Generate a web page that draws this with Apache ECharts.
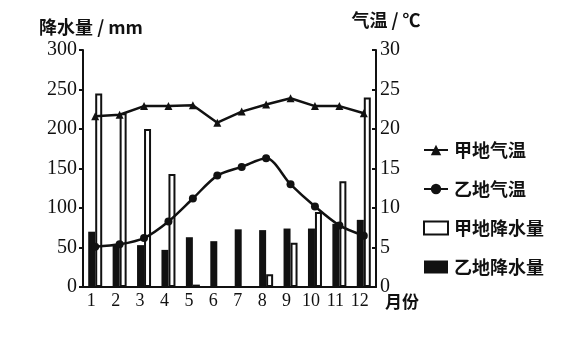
<!DOCTYPE html>
<html>
<head>
<meta charset="utf-8">
<script src="https://cdn.jsdelivr.net/npm/echarts@6/dist/echarts.min.js"></script>
<style>
html, body { margin: 0; padding: 0; background: #fff; }
#chart { width: 563px; height: 337px; }
</style>
</head>
<body>
<div id="chart"></div>
<script>
var months = ['1','2','3','4','5','6','7','8','9','10','11','12'];
var rainA = [245, 220, 200, 143, 3, 0, 0, 16, 56, 95, 134, 240];   // 甲地降水量
var rainB = [70, 53, 53, 47, 63, 58, 73, 72, 74, 74, 80, 85];      // 乙地降水量
var tempA = [21.6, 21.8, 22.9, 22.9, 23.0, 20.8, 22.2, 23.1, 23.9, 22.9, 22.9, 22.0]; // 甲地气温
var tempB = [5.1, 5.4, 6.2, 8.3, 11.2, 14.1, 15.2, 16.3, 13.0, 10.2, 7.8, 6.5];      // 乙地气温
var rainTicks = [0, 300, 50];
var tempTicks = [0, 30, 5];

var serif = 'Liberation Serif';
var cjk = 'Noto Sans CJK SC';

var chart = echarts.init(document.getElementById('chart'));

var option = {
	animation: false,
	backgroundColor: '#fff',
	grid: { left: 83, right: 187, top: 50, bottom: 50 },
	legend: {
		orient: 'vertical',
		left: 418,
		top: 136,
		itemGap: 21,
		itemWidth: 24,
		itemHeight: 13,
		selectedMode: false,
		data: [
			{ name: '甲地气温' },
			{ name: '乙地气温' },
			{ name: '甲地降水量', icon: 'rect' },
			{ name: '乙地降水量', icon: 'rect' }
		],
		textStyle: { fontFamily: cjk, fontWeight: 'bold', fontSize: 18, color: '#111', padding: [0, 0, 0, 1] }
	},
	xAxis: {
		type: 'category',
		data: months,
		name: '月份',
		nameLocation: 'end',
		nameGap: 9,
		nameMoveOverlap: false,
		nameTextStyle: { fontFamily: cjk, fontWeight: 'bold', fontSize: 17, color: '#111', verticalAlign: 'top', padding: [6, 0, 0, 0] },
		axisLine: { lineStyle: { color: '#111', width: 2 } },
		axisTick: { show: false },
		axisLabel: { fontFamily: serif, fontSize: 18, color: '#111', margin: 5, padding: [0, 8, 0, 0] }
	},
	yAxis: [
		{
			type: 'value',
			min: rainTicks[0],
			max: rainTicks[1],
			interval: rainTicks[2],
			name: '降水量 / mm',
			nameLocation: 'end',
			nameGap: 14,
			nameTextStyle: { fontFamily: cjk, fontWeight: 'bold', fontSize: 18, color: '#111', padding: [0, 0, 0, 16] },
			splitLine: { show: false },
			axisLine: { show: true, lineStyle: { color: '#111', width: 2 } },
			axisTick: { show: true, length: 4, lineStyle: { color: '#111', width: 2 } },
			axisLabel: { fontFamily: serif, fontSize: 20, color: '#111', margin: 6 }
		},
		{
			type: 'value',
			min: tempTicks[0],
			max: tempTicks[1],
			interval: tempTicks[2],
			position: 'right',
			name: '气温 / ℃',
			nameLocation: 'end',
			nameGap: 21,
			nameTextStyle: { fontFamily: cjk, fontWeight: 'bold', fontSize: 18, color: '#111', padding: [0, 0, 0, 20] },
			splitLine: { show: false },
			axisLine: { show: true, lineStyle: { color: '#111', width: 2 } },
			axisTick: { show: true, inside: true, length: 4, lineStyle: { color: '#111', width: 2 } },
			axisLabel: { fontFamily: serif, fontSize: 20, color: '#111', margin: 4 }
		}
	],
	series: [
		{
			name: '乙地降水量',
			type: 'bar',
			yAxisIndex: 0,
			data: rainB,
			barWidth: 7,
			barGap: '0%',
			itemStyle: { color: '#111' }
		},
		{
			name: '甲地降水量',
			type: 'bar',
			yAxisIndex: 0,
			data: rainA,
			barWidth: 7,
			barGap: '0%',
			itemStyle: { color: '#fff', borderColor: '#111', borderWidth: 2 }
		},
		{
			name: '甲地气温',
			type: 'line',
			yAxisIndex: 1,
			data: tempA,
			symbol: 'triangle',
			symbolSize: 8,
			itemStyle: { color: '#111' },
			lineStyle: { color: '#111', width: 2.5 }
		},
		{
			name: '乙地气温',
			type: 'line',
			yAxisIndex: 1,
			data: tempB,
			smooth: 0.3,
			symbol: 'circle',
			symbolSize: 8,
			itemStyle: { color: '#111' },
			lineStyle: { color: '#111', width: 2.5 }
		}
	]
};

chart.setOption(option);
</script>
</body>
</html>
